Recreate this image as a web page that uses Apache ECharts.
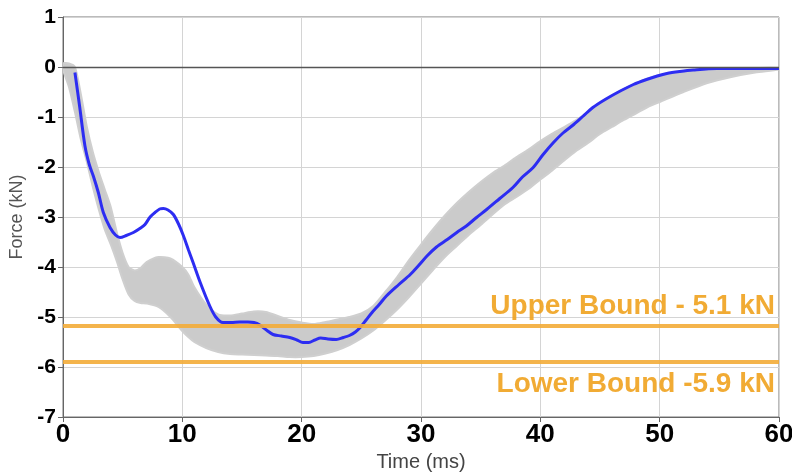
<!DOCTYPE html>
<html><head><meta charset="utf-8">
<script src="https://cdn.jsdelivr.net/npm/echarts@6/dist/echarts.min.js"></script>
<style>html,body{margin:0;padding:0;background:#fff}#c{width:792px;height:473px}</style>
</head><body><div id="c"></div>
<script>
// ---- data ----
const blueT = [1.0,1.4,1.84,2.2,2.54,2.96,3.38,3.94,4.4,4.78,5.3,5.9,6.5,6.87,7.3,7.71,8.1,8.41,8.8,9.25,9.7,10.1,10.5,10.9,11.5,12.3,12.8,13.4,14.1,14.8,15.5,16.0,16.5,17.1,17.6,18.3,19.0,19.6,20.1,20.6,21.1,21.6,22.2,22.9,23.5,24.0,24.5,24.9,25.4,25.9,26.5,27.1,28.1,29.1,29.8,30.5,31.3,32.2,33.0,33.8,34.6,35.5,36.6,37.7,38.5,39.4,40.2,41.1,41.9,42.8,43.6,44.4,45.5,46.7,47.8,48.9,49.8,50.6,51.7,52.8,54.8,57.0,60.0];
const blueF = [-0.11,-0.8,-1.58,-1.95,-2.18,-2.51,-2.91,-3.21,-3.36,-3.41,-3.37,-3.31,-3.22,-3.15,-3.0,-2.91,-2.84,-2.83,-2.86,-2.95,-3.15,-3.38,-3.65,-3.91,-4.31,-4.78,-5.0,-5.11,-5.11,-5.1,-5.1,-5.11,-5.16,-5.27,-5.35,-5.38,-5.41,-5.46,-5.51,-5.51,-5.46,-5.42,-5.44,-5.45,-5.41,-5.37,-5.3,-5.21,-5.06,-4.91,-4.75,-4.58,-4.36,-4.15,-3.97,-3.78,-3.6,-3.45,-3.31,-3.18,-3.02,-2.85,-2.63,-2.41,-2.2,-2.01,-1.76,-1.51,-1.32,-1.15,-0.98,-0.81,-0.64,-0.48,-0.35,-0.25,-0.18,-0.13,-0.09,-0.06,-0.03,-0.03,-0.03];

const bandT = [0,0.5,1,1.5,2,2.5,3,3.5,4,4.5,5,5.5,6,6.5,7,8,9,10,10.5,11,12,13,14,15,16,17,18,19,20,21,22,23,24,25,26,27,28,29,30,31,32,33,34,35,36,37,38,39,40,41,42,43,44,45,46,47,48,49,50,52,54,56,58,60];
const bandUpper = [0.07,0.07,0.0,-0.55,-1.2,-1.7,-2.1,-2.45,-2.8,-3.3,-3.72,-4.0,-4.07,-4.02,-3.9,-3.8,-3.83,-4.0,-4.15,-4.4,-4.75,-4.95,-4.97,-4.93,-4.89,-4.9,-4.98,-5.06,-5.11,-5.14,-5.1,-5.05,-5.0,-4.93,-4.78,-4.5,-4.2,-3.86,-3.55,-3.25,-2.97,-2.72,-2.5,-2.3,-2.12,-1.97,-1.8,-1.65,-1.48,-1.33,-1.2,-1.06,-0.9,-0.73,-0.57,-0.44,-0.33,-0.23,-0.16,-0.08,-0.04,-0.03,-0.02,-0.02];
const bandLower = [-0.05,-0.4,-0.9,-1.45,-1.9,-2.4,-2.85,-3.25,-3.55,-3.88,-4.25,-4.55,-4.68,-4.72,-4.73,-4.8,-5.0,-5.28,-5.4,-5.5,-5.62,-5.7,-5.74,-5.75,-5.76,-5.77,-5.78,-5.8,-5.8,-5.78,-5.73,-5.66,-5.56,-5.43,-5.27,-5.07,-4.85,-4.6,-4.33,-4.06,-3.8,-3.58,-3.36,-3.16,-2.95,-2.75,-2.6,-2.44,-2.25,-2.07,-1.87,-1.68,-1.52,-1.34,-1.2,-1.06,-0.93,-0.8,-0.7,-0.5,-0.32,-0.2,-0.11,-0.05];

const boundValues = [-5.17, -5.9];
const boundLabels = ['Upper Bound - 5.1 kN', 'Lower Bound -5.9 kN'];

const xMin = 0, xMax = 60, xStep = 10;
const yMin = -7, yMax = 1, yStep = 1;
const xName = 'Time (ms)';
const yName = 'Force (kN)';

// ---- chart ----
const FONT = "'Liberation Sans', Arial, sans-serif";
const blueData = blueT.map((t, i) => [t, blueF[i]]);
const bandData = bandT.map((t, i) => [t, bandUpper[i], bandLower[i]]);

const chart = echarts.init(document.getElementById('c'), null, {renderer: 'canvas'});
chart.setOption({
  animation: false,
  backgroundColor: '#fff',
  grid: {left: 63, right: 13, top: 17, bottom: 56, containLabel: false, outerBoundsMode: 'none',
    show: true, borderColor: '#777', borderWidth: 1, backgroundColor: 'transparent'},
  xAxis: {
    type: 'value', min: xMin, max: xMax, interval: xStep,
    name: xName, nameLocation: 'middle', nameGap: 30,
    nameTextStyle: {fontFamily: FONT, fontSize: 20, color: '#444'},
    axisLine: {onZero: false, lineStyle: {color: '#666', width: 1}},
    axisTick: {show: true, length: 5, lineStyle: {color: '#666'}},
    axisLabel: {fontFamily: FONT, fontSize: 26, fontWeight: 'bold', color: '#000', margin: 5},
    splitLine: {show: true, lineStyle: {color: '#d4d4d4', width: 1}}
  },
  yAxis: {
    type: 'value', min: yMin, max: yMax, interval: yStep,
    name: yName, nameLocation: 'middle', nameGap: 35, nameRotate: 90,
    nameTextStyle: {fontFamily: FONT, fontSize: 18, color: '#555'},
    axisLine: {show: true, lineStyle: {color: '#666', width: 1}},
    axisTick: {show: true, length: 5, lineStyle: {color: '#666'}},
    axisLabel: {fontFamily: FONT, fontSize: 21, fontWeight: 'bold', color: '#000', margin: 7},
    splitLine: {show: true, lineStyle: {color: '#d4d4d4', width: 1}}
  },
  series: [
    {
      type: 'line', name: 'zero', data: [], z: 1, silent: true,
      markLine: {silent: true, symbol: ['none', 'none'], label: {show: false},
        lineStyle: {color: '#555', width: 1.3, type: 'solid'},
        data: [{yAxis: 0}]}
    },
    {
      type: 'custom', name: 'band', z: 2, silent: true, clip: true,
      data: bandData,
      renderItem: function (params, api) {
        if (params.dataIndex !== 0) return null;
        const pts = [];
        for (let i = 0; i < bandT.length; i++) pts.push(api.coord([bandT[i], bandUpper[i]]));
        for (let i = bandT.length - 1; i >= 0; i--) pts.push(api.coord([bandT[i], bandLower[i]]));
        return {type: 'polygon', shape: {points: pts, smooth: 0.25}, style: {fill: '#cbcbcb', stroke: '#cfcfcf', lineWidth: 2}};
      }
    },
    {
      type: 'line', name: 'bounds', data: [], z: 3, silent: true,
      markLine: {silent: true, symbol: ['none', 'none'],
        lineStyle: {color: '#F3AC38', width: 4, type: 'solid', opacity: 0.9},
        data: [
          {yAxis: boundValues[0], label: {show: true, formatter: boundLabels[0], position: 'insideEndTop', distance: [4, 5], fontFamily: FONT, fontSize: 28, fontWeight: 'bold', color: '#F0A21E'}},
          {yAxis: boundValues[1], label: {show: true, formatter: boundLabels[1], position: 'insideEndBottom', distance: [4, 8], fontFamily: FONT, fontSize: 28, fontWeight: 'bold', color: '#F0A21E'}}
        ]}
    },
    {
      type: 'line', name: 'measured', data: blueData, z: 4, showSymbol: false, smooth: 0.3,
      lineStyle: {color: '#2D2DF2', width: 3}
    }
  ]
});
</script>
</body></html>
